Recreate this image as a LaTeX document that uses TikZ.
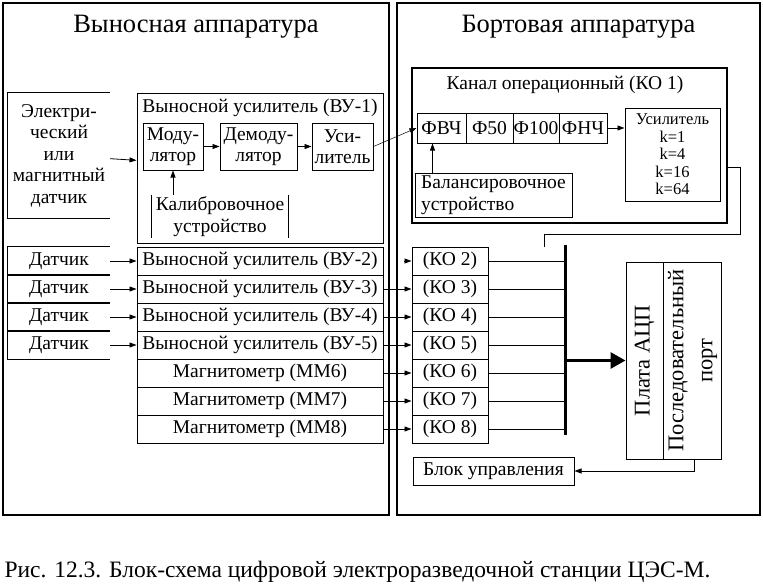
\documentclass[tikz,border=0pt]{standalone}
\usepackage{fontspec}
\setmainfont{Liberation Serif}
\usepackage{graphicx}
\usepackage{tikz}
\usetikzlibrary{positioning,arrows.meta,calc}
\newcommand{\bodysize}{\fontsize{19.5}{21.5}\selectfont}
\newcommand{\titlesize}{\fontsize{26.5}{30}\selectfont}
\newcommand{\ampsize}{\fontsize{16.5}{17.5}\selectfont}
\newcommand{\adcsize}{\fontsize{22.5}{29}\selectfont}
\newcommand{\capsize}{\fontsize{23.5}{26}\selectfont}

\begin{document}
\begin{tikzpicture}[x=1pt,y=-1pt,
    blk/.style={rectangle,draw,line width=1pt,inner sep=0pt,font=\bodysize,align=center},
    frame/.style={rectangle,draw,line width=2.5pt,inner sep=0pt},
    plain/.style={inner sep=0pt,font=\bodysize,align=center},
    wire/.style={line width=0.8pt},
    arrow/.style={-{Stealth[length=7pt,width=5pt,inset=0pt]},line width=0.8pt},
    bigarrow/.style={-{Stealth[length=15pt,width=16pt,inset=0pt]},line width=3pt}
]
\useasboundingbox (0,0) rectangle (763,586);

% two panels
\node[frame,minimum width=386pt,minimum height=512pt] (remote) at (196,259) {};
\node[frame,minimum width=363pt,minimum height=512pt] (board) at (578.5,259) {};
\node[font=\titlesize,inner sep=0pt] (remoteT) at (196,27) {Выносная аппаратура};
\node[font=\titlesize,inner sep=0pt] (boardT) at (578.5,27) {Бортовая аппаратура};

% sensor and remote amplifier 1
\node[plain,minimum width=102pt,minimum height=125pt] (sens1) at (59,155.5)
    {Электри-\\ческий\\или\\магнитный\\датчик};
\draw[wire] (sens1.north east) -- (sens1.north west) -- (sens1.south west) -- (sens1.south east);
\node[blk,minimum width=246pt,minimum height=150pt] (vu1) at (260,168) {};
\node[plain] (vu1T) at (260,108) {Выносной усилитель (ВУ-1)};
\node[blk,minimum width=60pt,minimum height=47pt] (mod) at (173,146.5) {Моду-\\лятор};
\node[blk,minimum width=77pt,minimum height=47pt] (demod) at (258.5,146.5) {Демоду-\\лятор};
\node[blk,minimum width=61pt,minimum height=47pt] (amp1) at (342.5,146.5) {Уси-\\литель};
\node[plain,minimum width=136pt,minimum height=43pt] (calib) at (220,216.5) {Калибровочное\\устройство};
\draw[wire] (calib.north west) -- (calib.south west) (calib.north east) -- (calib.south east);
\draw[arrow] (sens1) -- (vu1);
\draw[arrow] (mod) -- (demod);
\draw[arrow] (demod) -- (amp1);
\draw[arrow] (mod.south |- calib.north) -- (mod.south);

% sensors 2..5, magnetometers
\foreach \i/\y in {2/261,3/289,4/317,5/345} {
  \node[plain,minimum width=102pt,minimum height=28pt] (sens\i) at (59,\y) {Датчик};
  \draw[wire] (sens\i.north east) -- (sens\i.north west) -- (sens\i.south west) -- (sens\i.south east);
  \node[blk,minimum width=246pt,minimum height=28pt] (vu\i) at (260,\y) {Выносной усилитель (ВУ-\i)};
  \draw[arrow] (sens\i) -- (vu\i);
}
\foreach \i/\y in {6/373,7/401,8/429}
  \node[blk,minimum width=246pt,minimum height=28pt] (vu\i) at (260,\y) {Магнитометр (ММ\i)};

% operational channel 1
\node[frame,minimum width=315pt,minimum height=155pt] (ko1) at (569.5,145.5) {};
\node[plain] (ko1T) at (565,85) {Канал операционный (КО 1)};
\node[blk,minimum width=49pt,minimum height=30pt] (fvch) at (441.5,128) {ФВЧ};
\node[blk,minimum width=47pt,minimum height=30pt] (f50) at (489.5,128) {Ф50};
\node[blk,minimum width=46pt,minimum height=30pt] (f100) at (536,128) {Ф100};
\node[blk,minimum width=48pt,minimum height=30pt] (fnch) at (583,128) {ФНЧ};
\node[blk,minimum width=95pt,minimum height=93pt,font=\ampsize] (amp) at (672.5,154.5)
    {Усилитель\\k=1\\k=4\\k=16\\k=64};
\node[blk,minimum width=157pt,minimum height=44pt,align=left] (bal) at (493.5,195)
    {Балансировочное\\устройство};
\draw[arrow] (fnch.east) -- (fnch.east -| amp.west);
\draw[arrow] ([xshift=-9pt]fvch.south |- bal.north) -- ([xshift=-9pt]fvch.south);
\draw[arrow,line width=0.5pt] (amp1.east) -- (fvch.west);

% channels 2..8 and bus
\coordinate (busT) at (565,245);
\coordinate (busB) at (565,435);
\foreach \i/\y in {2/261,3/289,4/317,5/345,6/373,7/401,8/429} {
  \node[blk,minimum width=76pt,minimum height=28pt] (ko\i) at (450,\y) {(КО \i)};
  \draw[wire] (ko\i.east) -- (ko\i.east -| busT);
}
\draw[arrow] ([xshift=-8pt]ko2.west) -- (ko2.west);
\foreach \i in {3,...,8}
  \draw[arrow] (vu\i) -- (ko\i);
\draw[line width=3pt] (busT) -- (busB);

% ADC board, control unit
\node[blk,minimum width=37pt,minimum height=197pt,font=\adcsize] (adcL) at (644.5,360.5)
    {\rotatebox{90}{Плата АЦП}};
\node[blk,minimum width=58pt,minimum height=197pt,font=\adcsize] (adcR) at (692,360.5)
    {\rotatebox{90}{\begin{tabular}{@{}c@{}}Последовательный\\порт\end{tabular}}};
\node[blk,minimum width=161pt,minimum height=28pt] (ctrl) at (493.5,471) {Блок управления};
\draw[bigarrow] (busT |- adcL.west) -- (adcL.west);
\draw[arrow] ([xshift=2pt]adcR.south) |- (ctrl.east);
\coordinate (fbA) at (740,234);
\coordinate (fbB) at (544,247);
\draw[wire] (ko1.east |- 0,167) -- (fbA |- 0,167) -- (fbA) -| (fbB);

\node[font=\capsize,inner sep=0pt] (caption) at (357.5,572)
    {Рис. 12.3. Блок-схема цифровой электроразведочной станции ЦЭС-М.};
\end{tikzpicture}
\end{document}
